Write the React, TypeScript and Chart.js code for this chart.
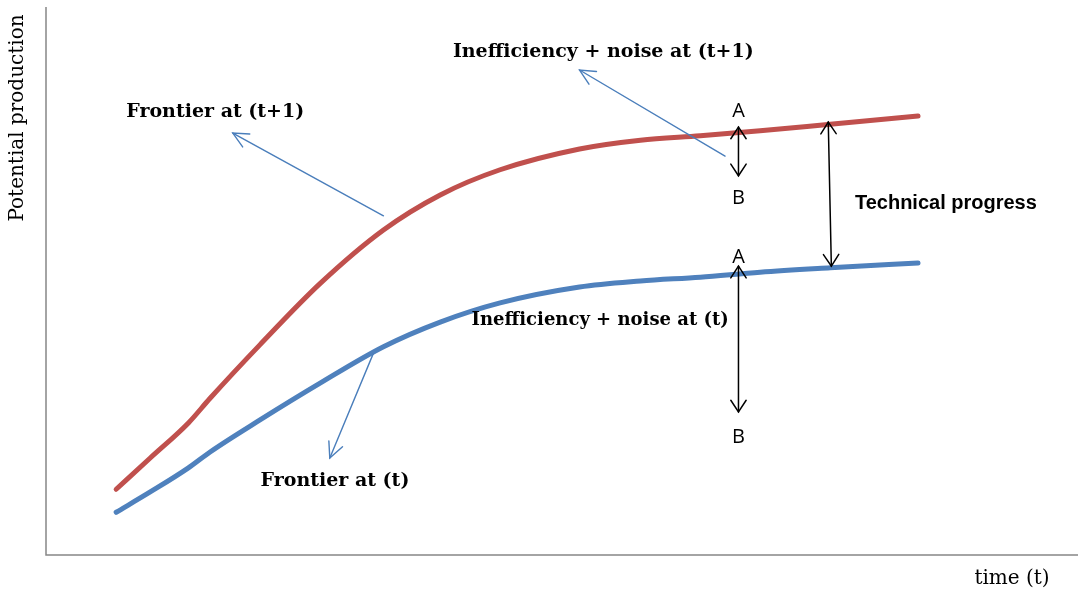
import React, { useEffect, useRef } from "react";
import { Chart, registerables } from "chart.js";

Chart.register(...registerables);

// time axis positions (abstract units)
const timePoints = [0.68, 1.01, 1.38, 1.59, 2.07, 2.66, 3.27, 3.82, 4.4, 5.17, 5.76, 6.34, 6.92, 7.6, 8.45];
// Frontier at (t+1)
const frontierNext = [1.2, 1.77, 2.41, 2.86, 3.83, 4.96, 5.93, 6.57, 7.03, 7.41, 7.57, 7.65, 7.74, 7.86, 8.01];
// Frontier at (t)
const frontierNow = [0.78, 1.15, 1.59, 1.88, 2.46, 3.14, 3.8, 4.25, 4.6, 4.89, 5.0, 5.07, 5.16, 5.24, 5.33];

// annotation arrows: [x1, y1, x2, y2]
const blueArrows: [number, number, number, number][] = [
  [3.27, 6.19, 1.81, 7.7],
  [6.58, 7.28, 5.17, 8.85],
  [3.17, 3.67, 2.75, 1.77],
];
const blackArrows: [number, number, number, number][] = [
  [6.71, 7.81, 6.71, 6.92],
  [6.71, 5.27, 6.71, 2.61],
  [7.58, 7.9, 7.61, 5.27],
];

// annotation labels: [text, x, y, font size]
const boldSerifLabels: [string, number, number, number][] = [
  ["Frontier at (t+1)", 1.64, 8.08, 19],
  ["Inefficiency + noise at (t+1)", 5.4, 9.18, 19],
  ["Inefficiency + noise at (t)", 5.37, 4.29, 18],
  ["Frontier at (t)", 2.8, 1.35, 19],
];
const boldSansLabels: [string, number, number][] = [["Technical progress", 8.72, 6.41]];
const letterLabels: [string, number, number][] = [
  ["A", 6.71, 8.1],
  ["B", 6.71, 6.51],
  ["A", 6.71, 5.44],
  ["B", 6.71, 2.15],
];

const yAxisTitle = "Potential production";
const xAxisTitle = "time (t)";

function drawHead(ctx: CanvasRenderingContext2D, x1: number, y1: number, x2: number, y2: number, len: number, ang: number) {
  const a = Math.atan2(y2 - y1, x2 - x1);
  ctx.beginPath();
  ctx.moveTo(x2 - len * Math.cos(a - ang), y2 - len * Math.sin(a - ang));
  ctx.lineTo(x2, y2);
  ctx.lineTo(x2 - len * Math.cos(a + ang), y2 - len * Math.sin(a + ang));
  ctx.stroke();
}

const annotationPlugin = {
  id: "annotations",
  afterDatasetsDraw(chart: any) {
    const ctx: CanvasRenderingContext2D = chart.ctx;
    const xs = chart.scales.x;
    const ys = chart.scales.y;
    const area = chart.chartArea;
    ctx.save();
    // axes
    ctx.strokeStyle = "#878787";
    ctx.lineWidth = 1.5;
    ctx.beginPath();
    ctx.moveTo(area.left, area.top);
    ctx.lineTo(area.left, area.bottom);
    ctx.lineTo(area.right, area.bottom);
    ctx.stroke();

    // blue arrows
    ctx.strokeStyle = "#4A7EBB";
    ctx.lineWidth = 1.4;
    ctx.lineCap = "round";
    for (const [a, b, c, d] of blueArrows) {
      const x1 = xs.getPixelForValue(a), y1 = ys.getPixelForValue(b);
      const x2 = xs.getPixelForValue(c), y2 = ys.getPixelForValue(d);
      ctx.beginPath();
      ctx.moveTo(x1, y1);
      ctx.lineTo(x2, y2);
      ctx.stroke();
      drawHead(ctx, x1, y1, x2, y2, 17, 0.45);
    }
    // black double arrows
    ctx.strokeStyle = "#000";
    ctx.lineWidth = 1.5;
    for (const [a, b, c, d] of blackArrows) {
      const x1 = xs.getPixelForValue(a), y1 = ys.getPixelForValue(b);
      const x2 = xs.getPixelForValue(c), y2 = ys.getPixelForValue(d);
      ctx.beginPath();
      ctx.moveTo(x1, y1);
      ctx.lineTo(x2, y2);
      ctx.stroke();
      drawHead(ctx, x1, y1, x2, y2, 14, 0.58);
      drawHead(ctx, x2, y2, x1, y1, 14, 0.58);
    }

    // labels
    ctx.fillStyle = "#000";
    ctx.textAlign = "center";
    ctx.textBaseline = "middle";
    for (const [t, x, y, s] of boldSerifLabels) {
      ctx.font = `bold ${s}px 'DejaVu Serif', serif`;
      ctx.fillText(t, xs.getPixelForValue(x), ys.getPixelForValue(y));
    }
    ctx.font = "bold 20px 'Liberation Sans', Arial, sans-serif";
    for (const [t, x, y] of boldSansLabels) {
      ctx.fillText(t, xs.getPixelForValue(x), ys.getPixelForValue(y));
    }
    ctx.font = "20px 'Open Sans', 'Liberation Sans', sans-serif";
    for (const [t, x, y] of letterLabels) {
      ctx.fillText(t, xs.getPixelForValue(x), ys.getPixelForValue(y));
    }

    // axis titles
    ctx.font = "20px 'DejaVu Serif', serif";
    ctx.fillText(xAxisTitle, area.right - 66, area.bottom + 24);
    ctx.save();
    ctx.translate(area.left - 28, area.top + 111);
    ctx.rotate(-Math.PI / 2);
    ctx.fillText(yAxisTitle, 0, 0);
    ctx.restore();
    ctx.restore();
  },
};

export default function App() {
  const ref = useRef<HTMLCanvasElement | null>(null);
  useEffect(() => {
    if (!ref.current) return;
    const chart = new Chart(ref.current, {
      type: "line",
      data: {
        datasets: [
          {
            label: "Frontier at (t+1)",
            data: timePoints.map((x, i) => ({ x, y: frontierNext[i] })),
            borderColor: "#C0504D",
            borderWidth: 5,
            pointRadius: 0,
            cubicInterpolationMode: "monotone",
            borderCapStyle: "round",
          },
          {
            label: "Frontier at (t)",
            data: timePoints.map((x, i) => ({ x, y: frontierNow[i] })),
            borderColor: "#4F81BD",
            borderWidth: 5,
            pointRadius: 0,
            cubicInterpolationMode: "monotone",
            borderCapStyle: "round",
          },
        ],
      },
      options: {
        responsive: false,
        animation: false,
        layout: { padding: { left: 46, top: 7, right: 0, bottom: 38 } },
        plugins: { legend: { display: false }, tooltip: { enabled: false } },
        scales: {
          x: { type: "linear", min: 0, max: 10, display: false },
          y: { type: "linear", min: 0, max: 10, display: false },
        },
      },
      plugins: [annotationPlugin],
    });
    return () => chart.destroy();
  }, []);
  return (
    <div style={{ position: "fixed", left: 0, top: 0, width: 1078, height: 593, background: "#fff" }}>
      <canvas ref={ref} width={1078} height={593} />
    </div>
  );
}
